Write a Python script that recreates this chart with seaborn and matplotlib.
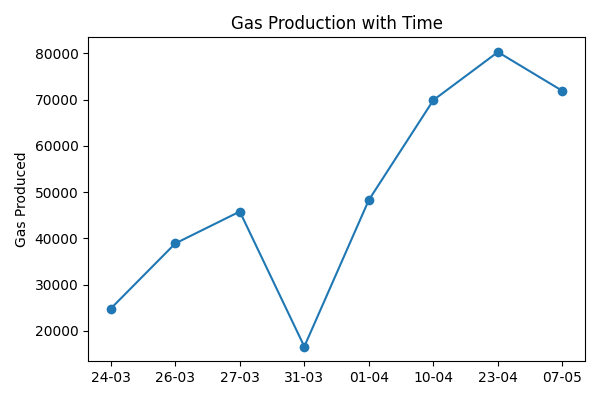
import matplotlib
matplotlib.use("Agg")
import matplotlib.pyplot as plt
import seaborn as sns

dates = ['24-03', '26-03', '27-03', '31-03', '01-04', '10-04', '23-04', '07-05']
gas_produced = [24800, 38900, 45800, 16600, 48300, 69900, 80300, 71900]

fig, ax = plt.subplots(figsize=(6, 4), dpi=100)
sns.lineplot(x=dates, y=gas_produced, marker='o', markersize=7,
             markeredgewidth=0, color='#1f77b4', sort=False, ax=ax)
ax.set_title('Gas Production with Time')
ax.set_ylabel('Gas Produced')
plt.tight_layout()
plt.savefig('out.png')
plt.close()
